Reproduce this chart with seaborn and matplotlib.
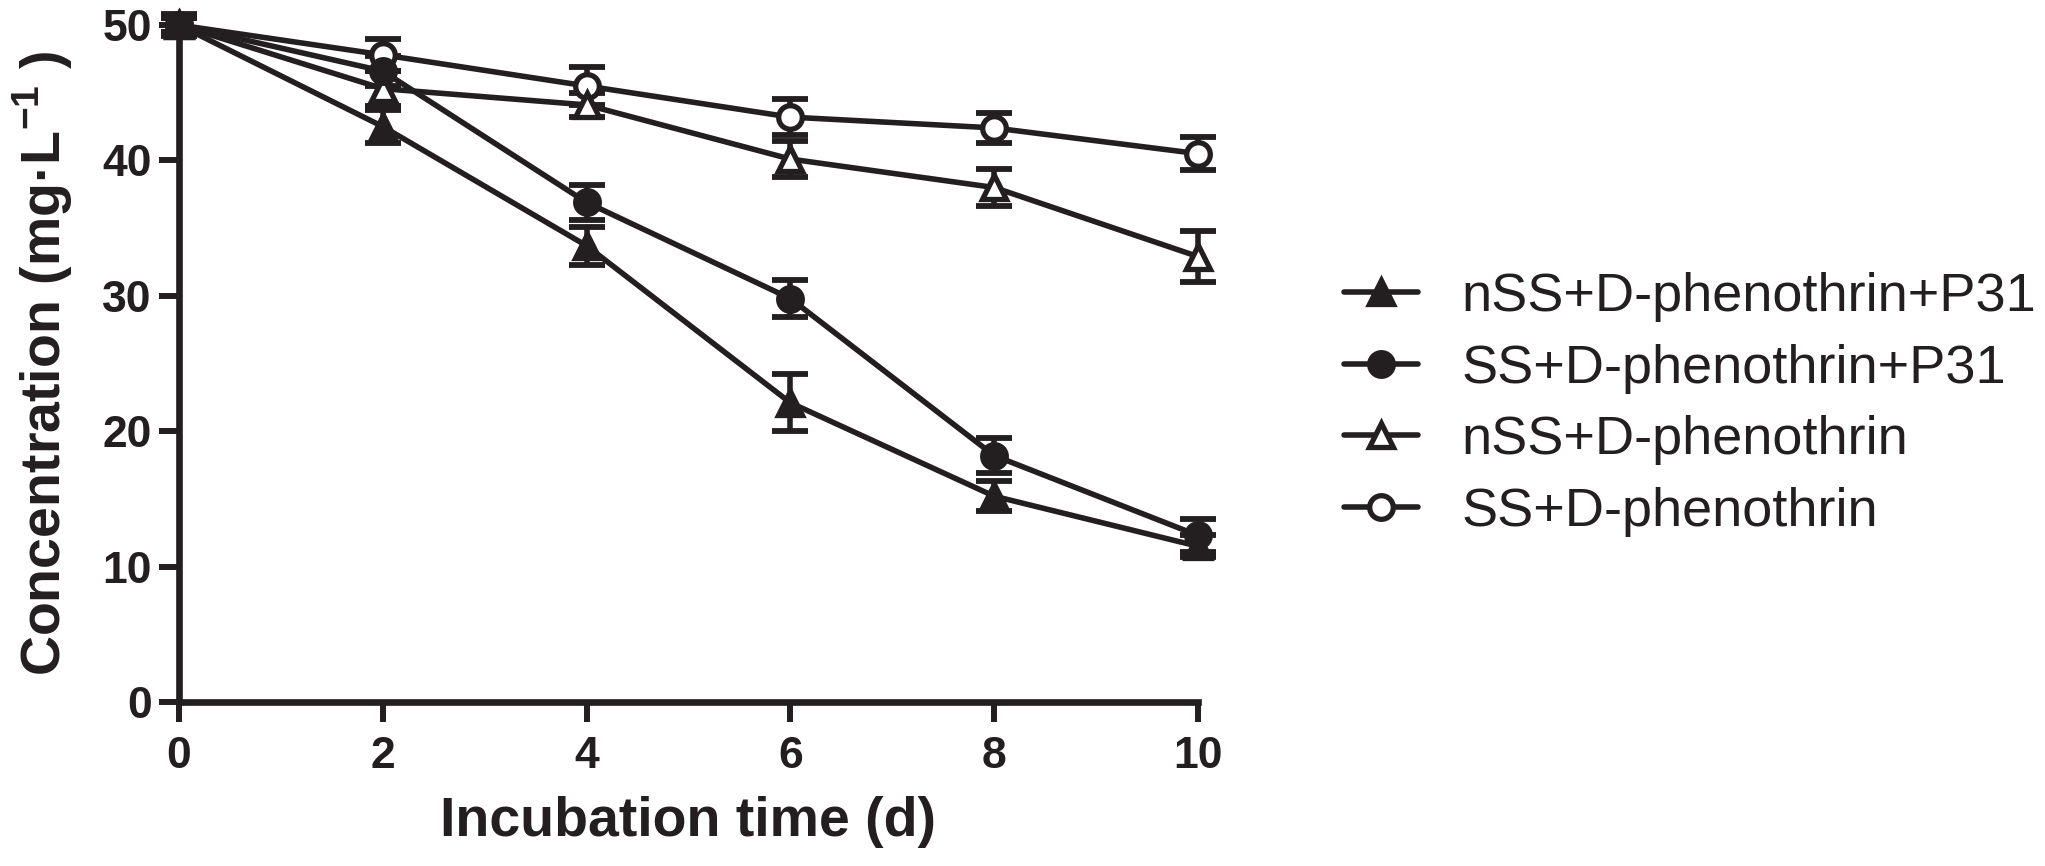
import matplotlib
matplotlib.use('Agg')
import matplotlib.pyplot as plt
import seaborn as sns

days = [0, 2, 4, 6, 8, 10]

labels = ['nSS+D-phenothrin+P31', 'SS+D-phenothrin+P31', 'nSS+D-phenothrin', 'SS+D-phenothrin']

nss_p31 = [50.0, 42.5, 33.7, 22.1, 15.2, 11.5]
nss_p31_err = [0.8, 1.2, 1.4, 2.1, 1.1, 0.8]

ss_p31 = [50.0, 46.6, 36.9, 29.8, 18.2, 12.3]
ss_p31_err = [0.5, 1.1, 1.3, 1.4, 1.3, 1.2]

nss = [50.0, 45.3, 44.1, 40.1, 38.0, 32.9]
nss_err = [0.5, 1.3, 0.9, 1.3, 1.35, 1.9]

ss = [50.0, 47.8, 45.5, 43.2, 42.4, 40.5]
ss_err = [0.5, 1.2, 1.4, 1.3, 1.1, 1.2]

sns.set_style('ticks')
plt.rcParams['font.family'] = ['Liberation Sans', 'DejaVu Sans']
plt.rcParams['mathtext.fontset'] = 'custom'
plt.rcParams['mathtext.rm'] = 'Liberation Sans'
plt.rcParams['mathtext.bf'] = 'Liberation Sans:bold'

ink = '#231f20'

fig = plt.figure(figsize=(20.45, 8.66), dpi=100)
ax = fig.add_axes([0.0875, 0.1894, 0.5858 - 0.0875, 0.9711 - 0.1894])

# series drawn back to front; filled markers on top
series = [
    (labels[3], ss, ss_err, 'o', 'white'),
    (labels[2], nss, nss_err, '^', 'white'),
    (labels[1], ss_p31, ss_p31_err, 'o', ink),
    (labels[0], nss_p31, nss_p31_err, '^', ink),
]

handles = {}
for name, vals, errs, mk, face in series:
    ax.errorbar(days, vals, yerr=errs, fmt='none', ecolor=ink, elinewidth=4,
                capsize=13, capthick=4.2, clip_on=False, zorder=2)
    sns.lineplot(x=days, y=vals, ax=ax, color=ink, linewidth=4, marker=mk,
                 markersize=17, markerfacecolor=face, markeredgecolor=ink,
                 markeredgewidth=3.8, clip_on=False, label=name, zorder=3)
    handles[name] = ax.lines[-1]

ax.set_xlim(0, 10)
ax.set_ylim(0, 50)
ax.set_xticks([0, 2, 4, 6, 8, 10])
ax.set_yticks([0, 10, 20, 30, 40, 50])

for side in ['top', 'right']:
    ax.spines[side].set_visible(False)
for side in ['left', 'bottom']:
    ax.spines[side].set_linewidth(4.8)
    ax.spines[side].set_color(ink)

ax.tick_params(axis='both', width=4.3, length=14.5, color=ink, labelsize=32, labelcolor=ink)
ax.tick_params(axis='x', pad=10)
ax.tick_params(axis='y', pad=5)
for lab in ax.get_xticklabels() + ax.get_yticklabels():
    lab.set_fontweight('bold')

ax.set_xlabel('Incubation time (d)', fontsize=40, fontweight='bold', color=ink, labelpad=14)
ax.set_ylabel(r'Concentration (mg·L$^{\mathbf{-1}}$ )', fontsize=40, fontweight='bold',
              color=ink, labelpad=20)

leg = ax.legend([handles[n] for n in labels], labels, loc='center left',
                bbox_to_anchor=(0.657, 0.533), bbox_transform=fig.transFigure,
                frameon=False, fontsize=39, handlelength=1.38, handletextpad=0.8,
                labelspacing=0.4, borderpad=0, borderaxespad=0)
for t in leg.get_texts():
    t.set_color(ink)

fig.savefig('out.png', dpi=100)
